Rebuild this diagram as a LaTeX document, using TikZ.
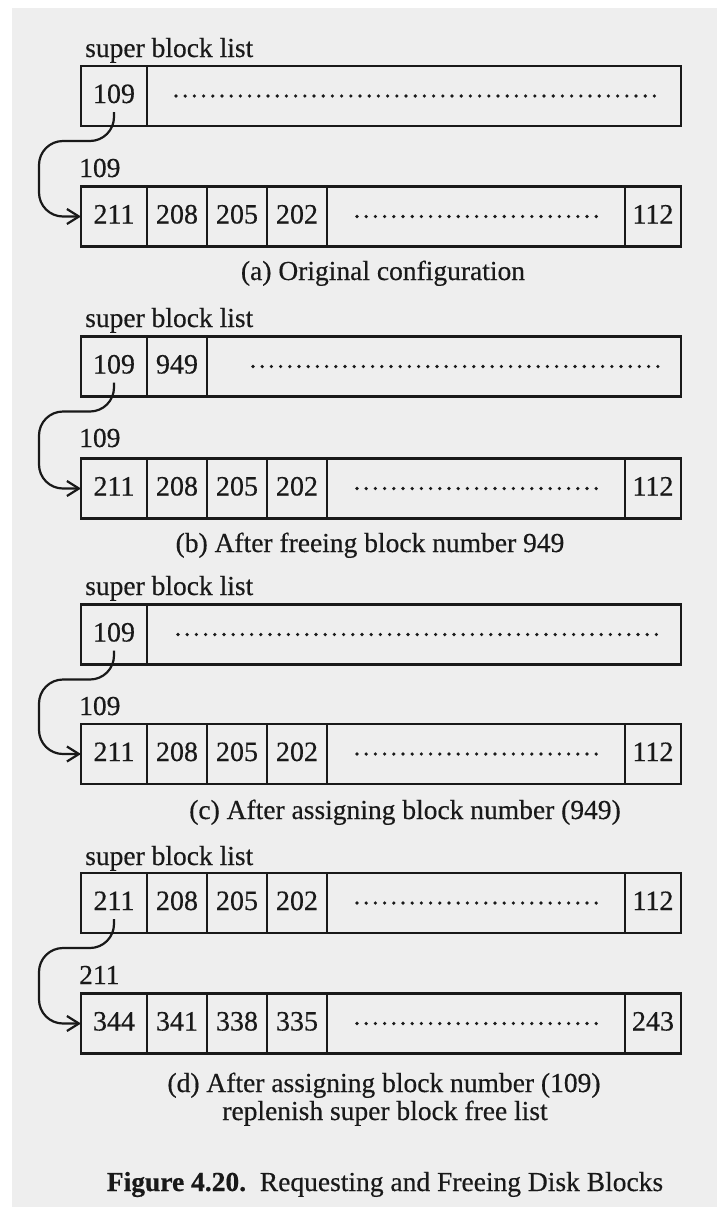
\documentclass[tikz,border=0pt]{standalone}
\usepackage{fontspec}
\setmainfont{Liberation Serif}[FakeBold=0.4]
\usepackage{tikz}
\usetikzlibrary{positioning,arrows.meta,calc}
\definecolor{paper}{RGB}{238,238,238}
\definecolor{ink}{RGB}{25,25,25}
\tikzset{
  cell/.style={rectangle,draw=ink,line width=2.3pt,outer sep=0pt,inner sep=0pt,
    minimum height=60pt,text height=19pt,text depth=5pt,font=\fontsize{28}{30}\selectfont},
  firstcell/.style={cell,minimum width=66pt},
  numcell/.style={cell,minimum width=60pt},
  gapcell/.style={cell,minimum width=298pt},
  lastcell/.style={cell,minimum width=56pt},
  lbl/.style={anchor=base west,inner sep=0pt},
  figcap/.style={anchor=base,inner sep=0pt},
  leader/.style={draw=ink,line width=3.6pt,line cap=round,dash pattern=on 0pt off 9.2pt},
  ptr/.style={draw=ink,-{Straight Barb[length=12pt,width=15pt]},line width=2.2pt,rounded corners=24pt},
}
\begin{document}
\begin{tikzpicture}[x=1pt,y=1pt,font=\fontsize{27.5}{29}\selectfont,text=ink]
  \useasboundingbox (0,0) rectangle (717,-1213);
  \fill[white] (0,0) rectangle (717,-1213);
  \fill[paper] (12,-8) rectangle (717,-1207);

  % (a) original configuration
  \node[lbl] (aSB) at (85,-57) {super block list};
  \node[firstcell,anchor=west] (aT1) at (81,-96) {109};
  \node[cell,minimum width=534pt,right=0pt of aT1] (aT2) {};
  \draw[leader] ([xshift=29pt]aT2.west) -- ([xshift=-24pt]aT2.east);
  \node[lbl] (aP) at (79,-177) {109};
  \node[firstcell,anchor=west] (aB1) at (81,-216.5) {211};
  \node[numcell,right=0pt of aB1] (aB2) {208};
  \node[numcell,right=0pt of aB2] (aB3) {205};
  \node[numcell,right=0pt of aB3] (aB4) {202};
  \node[gapcell,right=0pt of aB4] (aB5) {};
  \node[lastcell,right=0pt of aB5] (aB6) {112};
  \draw[leader] ([xshift=30pt]aB5.west) -- ([xshift=-26pt]aB5.east);
  \draw[ptr] ([yshift=-16pt]aT1.center) |- ($(aT1.south west)+(-42,-15)$) |- (aB1.west);
  \node[figcap] (aCap) at (383,-280) {(a) Original configuration};

  % (b) after freeing 949
  \node[lbl] (bSB) at (85,-327) {super block list};
  \node[firstcell,anchor=west] (bT1) at (81,-366.5) {109};
  \node[numcell,right=0pt of bT1] (bT2) {949};
  \node[cell,minimum width=474pt,right=0pt of bT2] (bT3) {};
  \draw[leader] ([xshift=46pt]bT3.west) -- ([xshift=-23pt]bT3.east);
  \node[lbl] (bP) at (79,-447) {109};
  \node[firstcell,anchor=west] (bB1) at (81,-488.5) {211};
  \node[numcell,right=0pt of bB1] (bB2) {208};
  \node[numcell,right=0pt of bB2] (bB3) {205};
  \node[numcell,right=0pt of bB3] (bB4) {202};
  \node[gapcell,right=0pt of bB4] (bB5) {};
  \node[lastcell,right=0pt of bB5] (bB6) {112};
  \draw[leader] ([xshift=30pt]bB5.west) -- ([xshift=-26pt]bB5.east);
  \draw[ptr] ([yshift=-16pt]bT1.center) |- ($(bT1.south west)+(-42,-15)$) |- (bB1.west);
  \node[figcap] (bCap) at (370,-552) {(b) After freeing block number 949};

  % (c) after assigning 949
  \node[lbl] (cSB) at (85,-595) {super block list};
  \node[firstcell,anchor=west] (cT1) at (81,-634.5) {109};
  \node[cell,minimum width=534pt,right=0pt of cT1] (cT2) {};
  \draw[leader] ([xshift=31pt]cT2.west) -- ([xshift=-23pt]cT2.east);
  \node[lbl] (cP) at (79,-715) {109};
  \node[firstcell,anchor=west] (cB1) at (81,-754) {211};
  \node[numcell,right=0pt of cB1] (cB2) {208};
  \node[numcell,right=0pt of cB2] (cB3) {205};
  \node[numcell,right=0pt of cB3] (cB4) {202};
  \node[gapcell,right=0pt of cB4] (cB5) {};
  \node[lastcell,right=0pt of cB5] (cB6) {112};
  \draw[leader] ([xshift=30pt]cB5.west) -- ([xshift=-26pt]cB5.east);
  \draw[ptr] ([yshift=-16pt]cT1.center) |- ($(cT1.south west)+(-42,-15)$) |- (cB1.west);
  \node[figcap] (cCap) at (405,-819) {(c) After assigning block number (949)};

  % (d) after assigning 109, list replenished
  \node[lbl] (dSB) at (85,-865) {super block list};
  \node[firstcell,anchor=west] (dT1) at (81,-903) {211};
  \node[numcell,right=0pt of dT1] (dT2) {208};
  \node[numcell,right=0pt of dT2] (dT3) {205};
  \node[numcell,right=0pt of dT3] (dT4) {202};
  \node[gapcell,right=0pt of dT4] (dT5) {};
  \node[lastcell,right=0pt of dT5] (dT6) {112};
  \draw[leader] ([xshift=30pt]dT5.west) -- ([xshift=-26pt]dT5.east);
  \node[lbl] (dP) at (79,-984) {211};
  \node[firstcell,anchor=west] (dB1) at (81,-1023.5) {344};
  \node[numcell,right=0pt of dB1] (dB2) {341};
  \node[numcell,right=0pt of dB2] (dB3) {338};
  \node[numcell,right=0pt of dB3] (dB4) {335};
  \node[gapcell,right=0pt of dB4] (dB5) {};
  \node[lastcell,right=0pt of dB5] (dB6) {243};
  \draw[leader] ([xshift=30pt]dB5.west) -- ([xshift=-26pt]dB5.east);
  \draw[ptr] ([yshift=-16pt]dT1.center) |- ($(dT1.south west)+(-42,-15)$) |- (dB1.west);
  \node[figcap] (dCap) at (384,-1092) {(d) After assigning block number (109)};
  \node[figcap] (dCap2) at (385,-1120) {replenish super block free list};

  \node[figcap] (fig) at (385,-1191) {\textbf{Figure 4.20.}\hspace{0.5em}Requesting and Freeing Disk Blocks};
\end{tikzpicture}
\end{document}
